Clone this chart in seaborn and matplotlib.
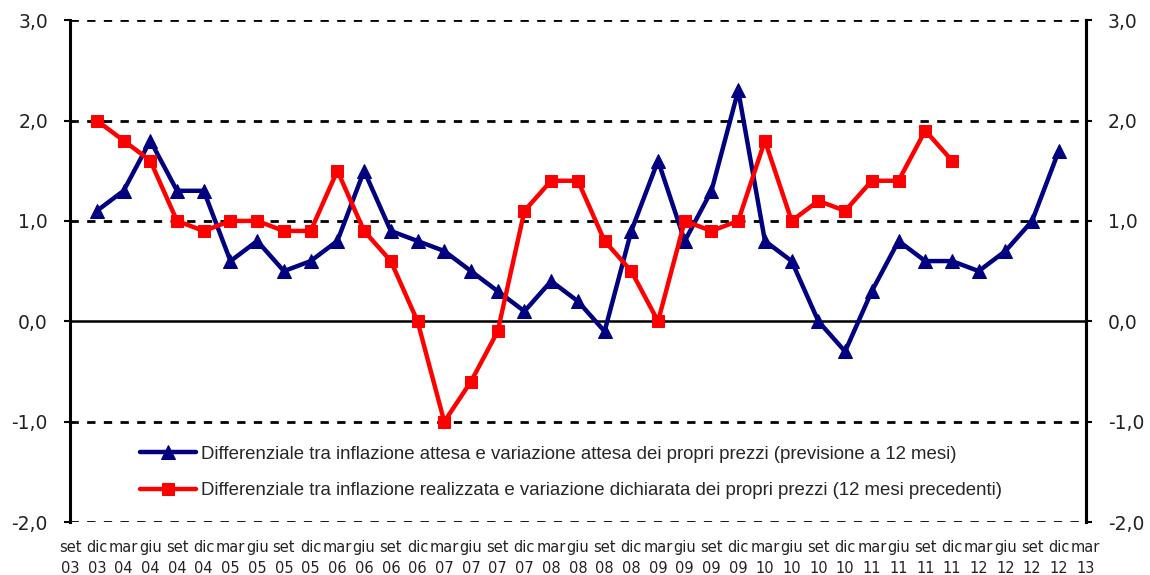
import numpy as np
import pandas as pd
import matplotlib
matplotlib.use("Agg")
import matplotlib.pyplot as plt
import seaborn as sns

# quarter labels, set 03 .. mar 13
months = ["set", "dic", "mar", "giu"]
years = ["03", "03", "04", "04", "04", "04", "05", "05", "05", "05", "06", "06", "06",
         "06", "07", "07", "07", "07", "08", "08", "08", "08", "09", "09", "09", "09",
         "10", "10", "10", "10", "11", "11", "11", "11", "12", "12", "12", "12", "13"]
tick_labels = [f"{months[i % 4]}\n{y}" for i, y in enumerate(years)]

# differenziale inflazione attesa (dic 03 .. dic 12)
attesa = [1.1, 1.3, 1.8, 1.3, 1.3, 0.6, 0.8, 0.5, 0.6, 0.8, 1.5, 0.9, 0.8, 0.7, 0.5,
          0.3, 0.1, 0.4, 0.2, -0.1, 0.9, 1.6, 0.8, 1.3, 2.3, 0.8, 0.6, 0.0, -0.3, 0.3,
          0.8, 0.6, 0.6, 0.5, 0.7, 1.0, 1.7]
# differenziale inflazione realizzata (dic 03 .. dic 11)
realizzata = [2.0, 1.8, 1.6, 1.0, 0.9, 1.0, 1.0, 0.9, 0.9, 1.5, 0.9, 0.6, 0.0, -1.0,
              -0.6, -0.1, 1.1, 1.4, 1.4, 0.8, 0.5, 0.0, 1.0, 0.9, 1.0, 1.8, 1.0, 1.2,
              1.1, 1.4, 1.4, 1.9, 1.6]

lab_attesa = ("Differenziale tra inflazione attesa e variazione attesa dei propri prezzi "
              "(previsione a 12 mesi)")
lab_real = ("Differenziale tra inflazione realizzata e variazione dichiarata dei propri "
            "prezzi (12 mesi precedenti)")

df_a = pd.DataFrame({"x": np.arange(1, len(attesa) + 1), "y": attesa})
df_r = pd.DataFrame({"x": np.arange(1, len(realizzata) + 1), "y": realizzata})

sns.set_theme(style="white")
plt.rcParams["font.family"] = ["DejaVu Sans"]

fig = plt.figure(figsize=(11.5, 5.75), dpi=100)
ax = fig.add_axes([0.061, 0.092, 0.883, 0.873])

yt = [-2, -1, 0, 1, 2, 3]
ylabels = [f"{v:.1f}".replace(".", ",") for v in yt]
for v in yt:
    if v == 0:
        ax.axhline(v, color="black", lw=1.8, zorder=1)
    else:
        ax.axhline(v, color="black", lw=2, ls=(0, (3, 3)), zorder=1)

sns.lineplot(data=df_a, x="x", y="y", ax=ax, color="#000080", lw=3.2, marker="^",
             markersize=10, markeredgecolor="#000080", label=lab_attesa, zorder=3)
sns.lineplot(data=df_r, x="x", y="y", ax=ax, color="#ff0000", lw=3.2, marker="s",
             markersize=8.5, markeredgecolor="#ff0000", label=lab_real, zorder=3)

ax.set_xlim(0, len(tick_labels) - 1)
ax.set_ylim(-2, 3)
ax.set_xticks(range(len(tick_labels)))
ax.set_xticklabels(tick_labels, fontsize=10.5, linespacing=1.45)
ax.set_yticks(yt)
ax.set_yticklabels(ylabels, fontsize=13.5)
ax.set_xlabel("")
ax.set_ylabel("")
ax.tick_params(axis="x", length=0, pad=13, colors="#222222")
ax.tick_params(axis="y", length=4, width=1.5, direction="out", pad=12,
               color="black", labelcolor="#222222")

for s in ["top", "bottom"]:
    ax.spines[s].set_visible(False)
for s in ["left", "right"]:
    ax.spines[s].set_color("black")
    ax.spines[s].set_linewidth(2.2)

ax2 = ax.twinx()
ax2.set_ylim(-2, 3)
ax2.set_yticks(yt)
ax2.set_yticklabels(ylabels, fontsize=13.5)
ax2.tick_params(axis="y", length=4, width=1.5, direction="out", pad=12,
                color="black", labelcolor="#222222")
for s in ["top", "bottom", "left"]:
    ax2.spines[s].set_visible(False)
ax2.spines["right"].set_color("black")
ax2.spines["right"].set_linewidth(2.2)

leg = ax.legend(loc="lower left", bbox_to_anchor=(0.052, 0.012), frameon=False,
                handlelength=3.0, handletextpad=0.27, labelspacing=1.05,
                prop={"family": "Liberation Sans", "size": 13.4})

fig.savefig("out.png", dpi=100)
